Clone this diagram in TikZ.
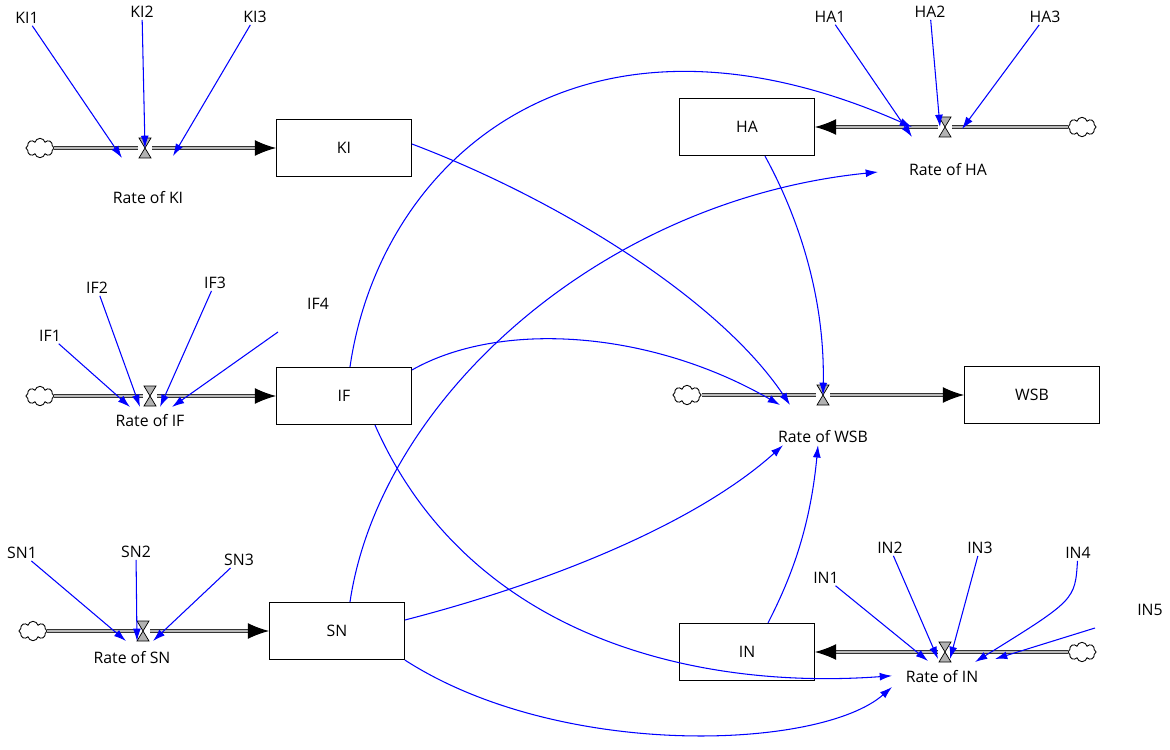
\documentclass[tikz,border=0pt]{standalone}
\usepackage{fontspec}
\setmainfont{Open Sans}
\usetikzlibrary{arrows.meta,shapes.symbols}

\begin{document}
\begin{tikzpicture}[x=0.02cm,y=-0.02cm,font=\fontsize{9}{10}\selectfont]
\tikzset{stock/.style={rectangle,draw=black,line width=0.8pt,minimum width=135*0.567pt,minimum height=57*0.567pt,inner sep=0pt},
  aux/.style={inner sep=1pt},
  cloudy/.style={cloud,cloud puffs=8,draw=black,line width=0.5pt,minimum width=16pt,minimum height=11pt,inner sep=0pt,aspect=1.5},
  valve/.style={inner sep=0pt,minimum size=8pt},
  pipe/.style={draw=black!80,line width=0.6pt,double=gray!55,double distance=1.6pt,-{Latex[length=12pt,width=9pt,black]}},
  link/.style={blue,line width=0.6pt,-{Latex[length=7pt,width=4.5pt]}}}
\useasboundingbox (0,0) rectangle (1170,750);
% stocks
\node[stock] (ki) at (344,148) {KI};
\node[stock] (if) at (344,396) {IF};
\node[stock] (sn) at (337,631) {SN};
\node[stock] (ha) at (747,127) {HA};
\node[stock] (wsb) at (1032,395) {WSB};
\node[stock] (in) at (747,652) {IN};
% clouds and valves
\node[cloudy] (kic) at (40,148) {};
\node[cloudy] (ifc) at (40,396) {};
\node[cloudy] (snc) at (33,631) {};
\node[cloudy] (hac) at (1082,127) {};
\node[cloudy] (wsbc) at (687,395) {};
\node[cloudy] (inc) at (1082,652) {};
\node[valve] (kiv) at (145,148) {};
\node[valve] (ifv) at (150,396) {};
\node[valve] (snv) at (143,631) {};
\node[valve] (hav) at (945,127) {};
\node[valve] (wsbv) at (823,395) {};
\node[valve] (inv) at (945,652) {};
% flows
\draw[pipe] (kic) -- (kiv) -- (ki);
\draw[pipe] (ifc) -- (ifv) -- (if);
\draw[pipe] (snc) -- (snv) -- (sn);
\draw[pipe] (hac) -- (hav) -- (ha);
\draw[pipe] (wsbc) -- (wsbv) -- (wsb);
\draw[pipe] (inc) -- (inv) -- (in);
\foreach \v in {kiv,ifv,snv,hav,wsbv,inv}{
  \fill[gray!60,draw=black,line width=0.4pt] ([shift={(-6,-10)}]\v.center) -- ([shift={(6,-10)}]\v.center) -- (\v.center) -- cycle;
  \fill[gray!60,draw=black,line width=0.4pt] ([shift={(-6,10)}]\v.center) -- ([shift={(6,10)}]\v.center) -- (\v.center) -- cycle;
}
% rate labels
\node[aux] (kir) at (148,198) {Rate of KI};
\node[aux] (ifr) at (150,421) {Rate of IF};
\node[aux] (snr) at (132,658) {Rate of SN};
\node[aux] (har) at (948,170) {Rate of HA};
\node[aux] (wsbr) at (823,437) {Rate of WSB};
\node[aux] (inr) at (942,677) {Rate of IN};
% auxiliaries
\node[aux] (ki1) at (27,18) {KI1};
\node[aux] (ki2) at (142,12) {KI2};
\node[aux] (ki3) at (255,17) {KI3};
\node[aux] (if1) at (50,336) {IF1};
\node[aux] (if2) at (97,288) {IF2};
\node[aux] (if3) at (215,283) {IF3};
\node[aux] (if4) at (318,304) {IF4};
\node[aux] (sn1) at (22,553) {SN1};
\node[aux] (sn2) at (136,552) {SN2};
\node[aux] (sn3) at (239,560) {SN3};
\node[aux] (ha1) at (830,17) {HA1};
\node[aux] (ha2) at (930,12) {HA2};
\node[aux] (ha3) at (1045,17) {HA3};
\node[aux] (in1) at (826,578) {IN1};
\node[aux] (in2) at (890,548) {IN2};
\node[aux] (in3) at (980,548) {IN3};
\node[aux] (in4) at (1078,553) {IN4};
\node[aux] (in5) at (1150,610) {IN5};
\coordinate (if4s) at (278,332);
\coordinate (in5s) at (1095,628);
% links into valves
\draw[link] (ki1) -- ([shift={(-23,10)}]kiv.center);
\draw[link] (ki2) -- (kiv.center);
\draw[link] (ki3) -- ([shift={(28,8)}]kiv.center);
\draw[link] (if1) -- ([shift={(-20,11)}]ifv.center);
\draw[link] (if2) -- ([shift={(-10,11)}]ifv.center);
\draw[link] (if3) -- ([shift={(10,11)}]ifv.center);
\draw[link] (if4s) -- ([shift={(22,11)}]ifv.center);
\draw[link] (sn1) -- ([shift={(-17,10)}]snv.center);
\draw[link] (sn2) -- ([shift={(-6,10)}]snv.center);
\draw[link] (sn3) -- ([shift={(10,10)}]snv.center);
\draw[link] (ha1) -- ([shift={(-33,10)}]hav.center);
\draw[link] (ha2) -- ([shift={(-5,0)}]hav.center);
\draw[link] (ha3) -- ([shift={(17,2)}]hav.center);
\draw[link] (in1) -- ([shift={(-17,9)}]inv.center);
\draw[link] (in2) -- ([shift={(-7,7)}]inv.center);
\draw[link] (in3) -- ([shift={(5,7)}]inv.center);
\draw[link] (in4) .. controls (1075,600) .. ([shift={(30,10)}]inv.center);
\draw[link] (in5s) -- ([shift={(50,7)}]inv.center);
% cross links
\draw[link] ([shift={(0,-4)}]ki.east) .. controls (560,200) and (720,300) .. ([shift={(-33,10)}]wsbv.center);
\draw[link] ([shift={(6,0)}]if.north) .. controls (380,160) and (580,-20) .. ([shift={(-33,0)}]hav.center);
\draw[link] ([shift={(0,-26)}]if.east) .. controls (500,320) and (650,330) .. ([shift={(-43,10)}]wsbv.center);
\draw[link] ([shift={(31,0)}]if.south) .. controls (470,640) and (700,690) .. ([shift={(-50,7)}]inr.north);
\draw[link] ([shift={(13,0)}]sn.north) .. controls (380,400) and (600,200) .. ([shift={(-70,2)}]har.center);
\draw[link] ([shift={(0,-11)}]sn.east) .. controls (560,580) and (700,520) .. ([shift={(-40,0)}]wsbr.south);
\draw[link] (sn.south east) .. controls (560,760) and (820,750) .. ([shift={(-50,10)}]inr.center);
\draw[link] ([shift={(18,0)}]ha.south) .. controls (800,220) and (825,300) .. (wsbv.center);
\draw[link] ([shift={(21,0)}]in.north) .. controls (790,580) and (810,530) .. ([shift={(-5,0)}]wsbr.south);
\end{tikzpicture}
\end{document}
